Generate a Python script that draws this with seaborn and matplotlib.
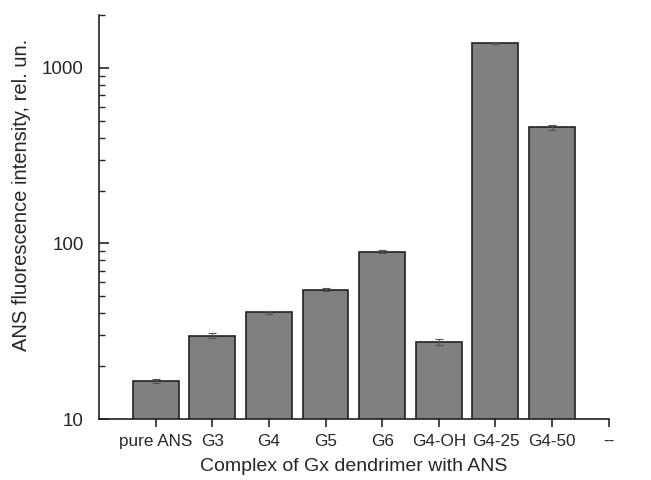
import numpy as np
import pandas as pd
import matplotlib
matplotlib.use("Agg")
import matplotlib.pyplot as plt
import matplotlib.ticker as mticker
import seaborn as sns

# values
samples = ["pure ANS", "G3", "G4", "G5", "G6", "G4-OH", "G4-25", "G4-50"]
intensity = [16.5, 29.8, 40.5, 54.6, 89.7, 27.4, 1377, 458]
errors = [0.5, 1.0, 0.8, 1.2, 1.5, 1.0, 5.0, 15.0]

df = pd.DataFrame({"sample": samples, "intensity": intensity})

sns.set_style("ticks")
plt.rcParams["font.family"] = ["Liberation Sans", "DejaVu Sans"]

fig = plt.figure(figsize=(6.51, 4.8), dpi=100)
ax = fig.add_axes([0.152, 0.127, 0.783, 0.842])

sns.barplot(data=df, x="sample", y="intensity", order=samples, color="#808080",
            saturation=1, width=0.81, edgecolor="#222222", linewidth=1.2,
            errorbar=None, ax=ax)
ax.errorbar(np.arange(len(samples)), intensity, yerr=errors, fmt="none",
            ecolor="#555555", elinewidth=0.8, capsize=3, capthick=0.8)

ax.set_yscale("log")
ax.set_ylim(10, 2000)
ax.set_xlim(-1, 8)
ax.set_xticks(np.arange(len(samples) + 1))
ax.set_xticklabels(samples + ["--"], fontsize=12.3)
ax.yaxis.set_major_locator(mticker.FixedLocator([10, 100, 1000]))
ax.yaxis.set_major_formatter(mticker.FixedFormatter(["10", "100", "1000"]))
ax.yaxis.set_minor_locator(mticker.LogLocator(base=10, subs=np.arange(2, 10)))
ax.yaxis.set_minor_formatter(mticker.NullFormatter())
ax.tick_params(axis="y", which="major", direction="in", length=7, width=1.2,
               labelsize=13.5, pad=11)
ax.tick_params(axis="y", which="minor", direction="in", length=4, width=1)
ax.tick_params(axis="x", direction="out", length=6, width=1.2, pad=5)

for s in ["top", "right"]:
    ax.spines[s].set_visible(False)
for s in ["left", "bottom"]:
    ax.spines[s].set_linewidth(1.2)
    ax.spines[s].set_color("#222222")

ax.set_xlabel("Complex of Gx dendrimer with ANS", fontsize=14, labelpad=6)
ax.set_ylabel("ANS fluorescence intensity, rel. un.", fontsize=14.5)
ax.yaxis.set_label_coords(-0.133, 0.554)

fig.savefig("out.png", dpi=100)
